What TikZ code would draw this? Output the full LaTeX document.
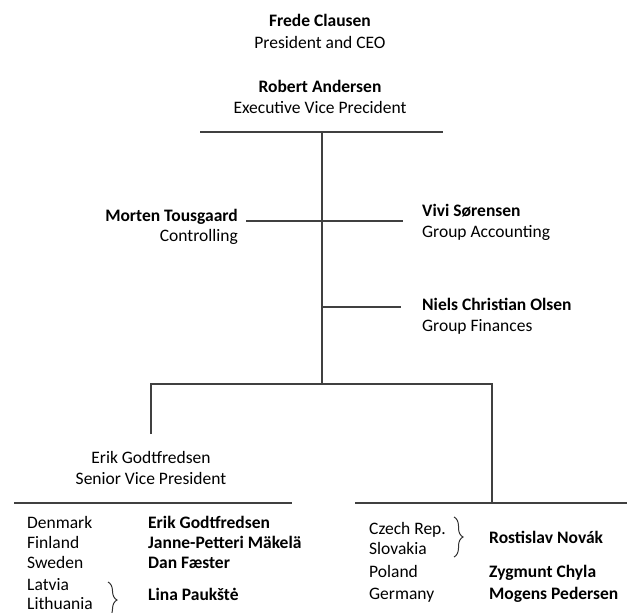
\documentclass[tikz,border=0pt]{standalone}
\usepackage{fontspec}
\setmainfont{Carlito}
\usetikzlibrary{decorations.pathreplacing}
\begin{document}
\begin{tikzpicture}[x=1pt,y=-1pt,
  txt/.style={inner sep=0pt, text=black, font=\fontsize{17.5}{21}\selectfont},
  bld/.style={inner sep=0pt, text=black, font=\fontsize{17.5}{21}\selectfont\bfseries},
  conn/.style={line width=1.3pt, draw=black!75},
  brc/.style={decorate, decoration={brace, amplitude=9pt}, line width=1pt, draw=black!80}]
\useasboundingbox (0,0) rectangle (627,613);

% top
\node[bld, anchor=base] (fc) at (320,27) {Frede Clausen};
\node[txt, anchor=base] (fct) at (320,48) {President and CEO};
\node[bld, anchor=base] (ra) at (320,92) {Robert Andersen};
\node[txt, anchor=base] (rat) at (320,113) {Executive Vice Precident};

% staff
\node[bld, anchor=base east] (mt) at (238,221) {Morten Tousgaard};
\node[txt, anchor=base east] (mtt) at (238,241) {Controlling};
\node[bld, anchor=base west] (vs) at (422,216) {Vivi Sørensen};
\node[txt, anchor=base west] (vst) at (422,237) {Group Accounting};
\node[bld, anchor=base west] (nco) at (422,310) {Niels Christian Olsen};
\node[txt, anchor=base west] (ncot) at (422,331) {Group Finances};

% left branch
\node[txt, anchor=base] (eg) at (151,463) {Erik Godtfredsen};
\node[txt, anchor=base] (egt) at (151,484) {Senior Vice President};

\node[txt, anchor=base west] (dk) at (27,528) {Denmark};
\node[txt, anchor=base west] (fi) at (27,548) {Finland};
\node[txt, anchor=base west] (se) at (27,568) {Sweden};
\node[txt, anchor=base west] (lv) at (27,590) {Latvia};
\node[txt, anchor=base west] (lt) at (27,609) {Lithuania};
\node[bld, anchor=base west] (n1) at (148,528) {Erik Godtfredsen};
\node[bld, anchor=base west] (n2) at (148,548) {Janne-Petteri Mäkelä};
\node[bld, anchor=base west] (n3) at (148,568) {Dan Fæster};
\node[bld, anchor=base west] (n4) at (148,600) {Lina Paukštė};

% right branch
\node[txt, anchor=base west] (cz) at (369,534) {Czech Rep.};
\node[txt, anchor=base west] (sk) at (369,554) {Slovakia};
\node[txt, anchor=base west] (pl) at (369,577) {Poland};
\node[txt, anchor=base west] (de) at (369,599) {Germany};
\node[bld, anchor=base west] (r1) at (489,543) {Rostislav Novák};
\node[bld, anchor=base west] (r2) at (489,577) {Zygmunt Chyla};
\node[bld, anchor=base west] (r3) at (489,599) {Mogens Pedersen};

% connector points
\coordinate (tl) at (200,132);
\coordinate (tr) at (443,132);
\coordinate (tm) at (322,132);
\coordinate (bm) at (322,384);
\coordinate (ml) at (246,221);
\coordinate (mr) at (403,221);
\coordinate (nl) at (322,307);
\coordinate (nr) at (401,307);
\coordinate (bl) at (151,384);
\coordinate (br) at (492,384);
\coordinate (blb) at (151,434);
\coordinate (brb) at (492,503);
\coordinate (ll) at (14,503);
\coordinate (lr) at (292,503);
\coordinate (rl) at (355,503);
\coordinate (rr) at (627,503);

\draw[conn] (tl) -- (tr);
\draw[conn] (tm) -- (bm);
\draw[conn] (ml) -- (mr);
\draw[conn] (nl) -- (nr);
\draw[conn] (blb) -- (bl) -- (br) -- (brb);
\draw[conn] (ll) -- (lr);
\draw[conn] (rl) -- (rr);

% braces
\coordinate (b1t) at (108,582);
\coordinate (b1b) at (108,618);
\coordinate (b2t) at (454,517);
\coordinate (b2b) at (454,557);
\draw[brc] (b1t) -- (b1b);
\draw[brc] (b2t) -- (b2b);
\end{tikzpicture}
\end{document}
